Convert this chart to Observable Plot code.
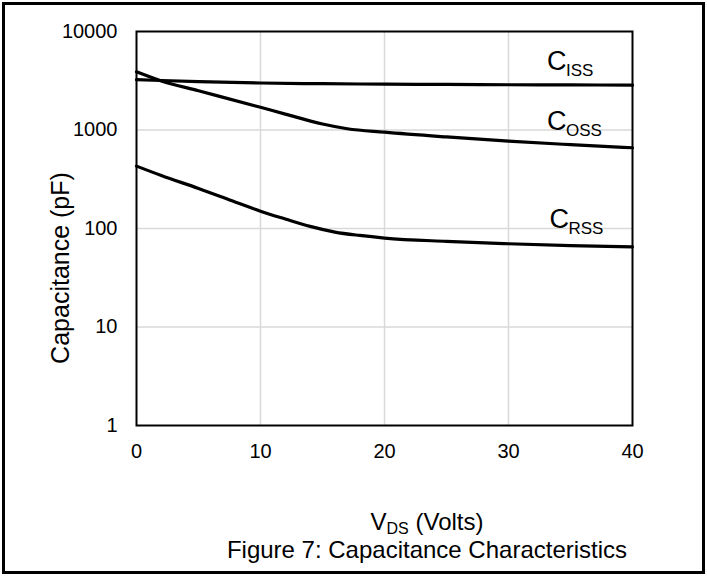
<!DOCTYPE html>
<html>
<head>
<meta charset="utf-8">
<script src="https://cdn.jsdelivr.net/npm/d3@7"></script>
<script src="https://cdn.jsdelivr.net/npm/@observablehq/plot@0.6"></script>
<style>
  html, body { margin: 0; padding: 0; background: #fff; }
  #wrap { position: relative; width: 707px; height: 576px; background: #fff; overflow: hidden;
          font-family: Arial, "Liberation Sans", sans-serif; color: #000; }
  #chart { position: absolute; left: 0; top: 0; }
  #frame { position: absolute; left: 2px; top: 2px; width: 703px; height: 572px;
           border: 3px solid #000; box-sizing: border-box; pointer-events: none; }
  .t { position: absolute; white-space: nowrap; text-align: center; }
  .t sub { font-size: 16px; line-height: 0; vertical-align: -0.25em; }
  #ytitle { left: -90px; top: 256px; width: 300px; font-size: 25px; line-height: 24px;
            transform: rotate(-90deg); transform-origin: 150px 12px; }
  #xtitle { left: 277px; top: 510px; width: 300px; font-size: 24px; line-height: 24px; }
  #caption { left: 177px; top: 538px; width: 500px; font-size: 24px; line-height: 24px; }
</style>
</head>
<body>
<div id="wrap">
  <div id="chart"></div>
  <div id="frame"></div>
  <div class="t" id="ytitle">Capacitance (pF)</div>
  <div class="t" id="xtitle">V<sub>DS</sub> (Volts)</div>
  <div class="t" id="caption">Figure 7: Capacitance Characteristics</div>
</div>
<script>
// Drain-source voltage (V) sample points for each curve
const vdsCiss = [0, 2, 5, 10, 15, 20, 25, 30, 35, 40];
const ciss    = [3250, 3180, 3100, 3000, 2950, 2920, 2900, 2880, 2870, 2850];

const vdsCoss = [0, 2, 5, 10, 12, 15, 17, 20, 25, 30, 35, 40];
const coss    = [3900, 3150, 2500, 1700, 1450, 1150, 1030, 950, 850, 770, 710, 660];

const vdsCrss = [0, 2, 5, 8, 10, 12, 14, 16, 18, 20, 25, 30, 35, 40];
const crss    = [430, 345, 255, 185, 150, 125, 105, 92, 85, 80, 74, 70, 67, 65];

// Series labels (main letter + subscript), anchored in data space
const labelNames = ["ISS", "OSS", "RSS"];
const labelX     = [33.1, 33.1, 33.3];
const labelY     = [5000, 1220, 124];

// Axis ticks
const xTicks = [0, 10, 20, 30, 40];
const yTicks = [1, 10, 100, 1000, 10000];
const xGrid  = [10, 20, 30];
const yGrid  = [10, 100, 1000];

const toRows = (xs, ys, s) => xs.map((x, i) => ({ vds: x, c: ys[i], series: s }));
const rows = [
  ...toRows(vdsCiss, ciss, "Ciss"),
  ...toRows(vdsCoss, coss, "Coss"),
  ...toRows(vdsCrss, crss, "Crss")
];
const labels = labelNames.map((n, i) => ({ name: n, x: labelX[i], y: labelY[i] }));

const chart = Plot.plot({
  width: 707,
  height: 480,
  marginLeft: 136,
  marginRight: 75,
  marginTop: 31,
  marginBottom: 55,
  style: { fontFamily: 'Arial, "Liberation Sans", sans-serif', background: "transparent", color: "#000" },
  x: { domain: [0, 40] },
  y: { type: "log", domain: [1, 10000] },
  marks: [
    Plot.gridX(xGrid, { stroke: "#d9d9d9", strokeOpacity: 1, strokeWidth: 1.5 }),
    Plot.gridY(yGrid, { stroke: "#d9d9d9", strokeOpacity: 1, strokeWidth: 1.5 }),
    Plot.axisX(xTicks, { tickSize: 0, tickPadding: 18, fontSize: 20, label: null, tickFormat: d => String(d) }),
    Plot.axisY(yTicks, { tickSize: 0, tickPadding: 19, fontSize: 20, label: null, tickFormat: d => String(d) }),
    Plot.line(rows, { x: "vds", y: "c", z: "series", stroke: "#000", strokeWidth: 3.2, curve: "monotone-x" }),
    Plot.frame({ stroke: "#000", strokeWidth: 2 }),
    Plot.text(labels, { x: "x", y: "y", text: () => "C", textAnchor: "start", fontSize: 27, fill: "#000" }),
    Plot.text(labels, { x: "x", y: "y", text: "name", textAnchor: "start", fontSize: 17, dx: 19, dy: 9, fill: "#000" })
  ]
});
document.getElementById("chart").appendChild(chart);
</script>
</body>
</html>
